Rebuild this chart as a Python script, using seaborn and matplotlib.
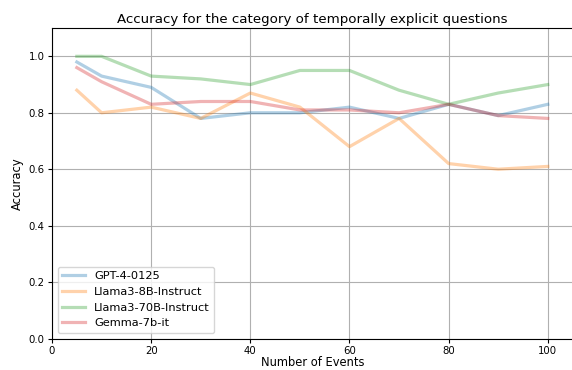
import pandas as pd
import seaborn as sns
import matplotlib.pyplot as plt

# -----------------------------
# Data
# -----------------------------
events = [5, 10, 20, 30, 40, 50, 60, 70, 80, 90, 100]
gpt4 = [0.98, 0.93, 0.89, 0.78, 0.80, 0.80, 0.82, 0.78, 0.83, 0.79, 0.83]
llama8b = [0.88, 0.80, 0.82, 0.78, 0.87, 0.82, 0.68, 0.78, 0.62, 0.60, 0.61]
llama70b = [1.00, 1.00, 0.93, 0.92, 0.90, 0.95, 0.95, 0.88, 0.83, 0.87, 0.90]
gemma = [0.96, 0.91, 0.83, 0.84, 0.84, 0.81, 0.81, 0.80, 0.83, 0.79, 0.78]

models = ["GPT-4-0125", "Llama3-8B-Instruct", "Llama3-70B-Instruct", "Gemma-7b-it"]
series = [gpt4, llama8b, llama70b, gemma]

rows = []
for name, vals in zip(models, series):
    for x, y in zip(events, vals):
        rows.append({"Number of Events": x, "Accuracy": y, "Model": name})
df = pd.DataFrame(rows)

# -----------------------------
# Plot
# -----------------------------
fig = plt.figure(figsize=(5.72, 3.70), dpi=100)
ax = fig.add_axes([0.091, 0.085, 0.91, 0.839])

sns.lineplot(data=df, x="Number of Events", y="Accuracy", hue="Model",
             hue_order=models, palette="tab10", linewidth=2.3, alpha=0.35, ax=ax)

ax.set_xlim(0, 105)
ax.set_ylim(0, 1.1)
ax.set_yticks([0.0, 0.2, 0.4, 0.6, 0.8, 1.0])
ax.grid(True, color="#b0b0b0", linewidth=0.8)
ax.tick_params(labelsize=7.3, length=3, pad=2.5)
ax.set_xlabel("Number of Events", fontsize=8.3, labelpad=0)
ax.set_ylabel("Accuracy", fontsize=8.3, labelpad=3)
ax.set_title("Accuracy for the category of temporally explicit questions", fontsize=9.6, pad=4)
ax.legend(loc="lower left", fontsize=8.2)

fig.savefig("out.png", dpi=100)
